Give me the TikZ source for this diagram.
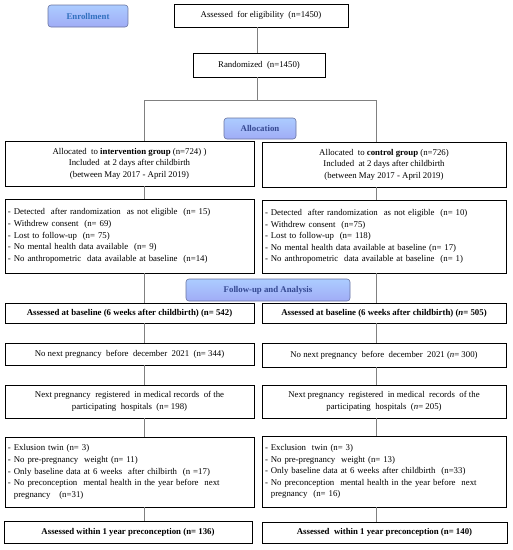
\documentclass[tikz,border=0pt]{standalone}
\usepackage{amsmath}
\usepackage{fontspec}
\setmainfont{Liberation Serif}
\usepackage{tikz}
\usepackage{color}

\definecolor{hdrtop}{RGB}{172,204,255}
\definecolor{hdrbot}{RGB}{160,172,246}
\definecolor{hdrline}{RGB}{105,115,160}
\definecolor{hdrtext}{RGB}{52,72,145}
\definecolor{enrtext}{RGB}{48,112,190}
\definecolor{linkgray}{RGB}{128,128,128}

\begin{document}
\begin{tikzpicture}[x=1pt,y=-1pt,
  box/.style={draw=black, line width=0.8pt, fill=white, inner sep=2pt,
    font=\fontsize{8.8}{11.6}\selectfont, align=center},
  listbox/.style={box, align=left, inner xsep=3pt},
  hdr/.style={draw=hdrline, line width=0.6pt, rounded corners=3pt,
    top color=hdrtop, bottom color=hdrbot, text=hdrtext,
    font=\fontsize{8.8}{10}\selectfont\bfseries, inner sep=1pt},
  link/.style={draw=linkgray, line width=0.8pt}]
\useasboundingbox (0,0) rectangle (513,550);

% enrollment
\node[hdr, text=enrtext, minimum width=80pt, minimum height=22pt] (enroll) at (88,16) {Enrollment};
\node[box, minimum width=174pt, minimum height=23pt] (elig) at (261,15.5) {Assessed\ \ for eligibility\ \ (n=1450)};
\node[box, minimum width=132pt, minimum height=24pt] (rand) at (259,65) {Randomized\ \ (n=1450)};

\coordinate (split) at (257,100);
\coordinate (lx) at (144,100);
\coordinate (rx) at (376,100);

% allocation
\node[box, minimum width=249pt, minimum height=45pt] (intv) at (129.5,163.5)
  {Allocated\ \ to \textbf{intervention group} (n=724) )\\ Included\ \ at 2 days after childbirth\\ (between May 2017 - April 2019)};
\node[box, minimum width=244pt, minimum height=45pt] (ctrl) at (384,164.5)
  {Allocated\ \ to \textbf{control group} (n=726)\\ Included\ \ at 2 days after childbirth\\ (between May 2017 - April 2019)};

\node[listbox, minimum width=249pt, minimum height=74pt, text width=243pt] (exL) at (129.5,236)
  {- Detected\ \ after randomization\ \ as not eligible\ \ (n= 15)\\
   - Withdrew consent\ \ (n= 69)\\
   - Lost to follow-up\ \ (n= 75)\\
   - No mental health data available\ \ (n= 9)\\
   - No anthropometric\ \ data available at baseline\ \ (n=14)};
\node[listbox, minimum width=244pt, minimum height=73pt, text width=238pt] (exR) at (384,236.5)
  {- Detected\ \ after randomization\ \ as not eligible\ \ (n= 10)\\
   - Withdrew consent\ \ (n=75)\\
   - Lost to follow-up\ \ (n= 118)\\
   - No mental health data available at baseline (n= 17)\\
   - No anthropometric\ \ data available at baseline\ \ (n= 1)};

% follow-up and analysis
\node[box, minimum width=249pt, minimum height=20pt] (baseL) at (129.5,313)
  {\textbf{Assessed at baseline (6 weeks after childbirth) (n= 542)}};
\node[box, minimum width=244pt, minimum height=20pt] (baseR) at (384,313)
  {\textbf{Assessed at baseline (6 weeks after childbirth) (\textit{n}= 505)}};

\node[box, minimum width=249pt, minimum height=22pt] (nonL) at (129.5,354)
  {No next pregnancy\ \ before\ \ december\ \ 2021\ \ (n= 344)};
\node[box, minimum width=244pt, minimum height=24pt] (nonR) at (384,355)
  {No next pregnancy\ \ before\ \ december\ \ 2021 (\textit{n}= 300)};

\node[box, minimum width=249pt, minimum height=33pt] (nextL) at (129.5,401.5)
  {Next pregnancy\ \ registered\ \ in medical records\ \ of the\\ participating\ \ hospitals\ \ (n= 198)};
\node[box, minimum width=244pt, minimum height=33pt] (nextR) at (384,401.5)
  {Next pregnancy\ \ registered\ \ in medical\ \ records\ \ of the\\ participating\ \ hospitals\ \ (\textit{n}= 205)};

\node[listbox, minimum width=249pt, minimum height=70pt, text width=243pt] (ex2L) at (129.5,472)
  {- Exlusion twin (n= 3)\\
   - No pre-pregnancy\ \ weight (n= 11)\\
   - Only baseline data at 6 weeks\ \ after chilbirth\ \ (n =17)\\
   - No preconception\ \ mental health in the year before\ \ next\\
   \ \ pregnancy\ \ \ (n=31)};
\node[listbox, minimum width=244pt, minimum height=71pt, text width=238pt] (ex2R) at (384,471.5)
  {- Exclusion\ \ twin (n= 3)\\
   - No pre-pregnancy\ \ weight (n= 13)\\
   - Only baseline data at 6 weeks after childbirth\ \ (n=33)\\
   - No preconception\ \ mental health in the year before\ \ next\\
   \ \ pregnancy\ \ (n= 16)};

\node[box, minimum width=248pt, minimum height=22pt] (finL) at (128,532)
  {\textbf{Assessed within 1 year preconception (n= 136)}};
\node[box, minimum width=245pt, minimum height=21pt] (finR) at (384.5,532.5)
  {\textbf{Assessed\ \ within 1 year preconception (n= 140)}};

% connectors
\draw[link] (elig.south -| split) -- (rand.north -| split);
\draw[link] (rand.south -| split) -- (split);
\draw[link] (lx) -- (rx);
\draw[link] (lx) -- (intv.north -| lx);
\draw[link] (rx) -- (ctrl.north -| rx);
\draw[link] (intv.south -| lx) -- (exL.north -| lx);
\draw[link] (ctrl.south -| rx) -- (exR.north -| rx);
\draw[link] (exL.south -| lx) -- (baseL.north -| lx);
\draw[link] (exR.south -| rx) -- (baseR.north -| rx);
\draw[link] (baseL.south -| lx) -- (nonL.north -| lx);
\draw[link] (baseR.south -| rx) -- (nonR.north -| rx);
\draw[link] (nonL.south -| lx) -- (nextL.north -| lx);
\draw[link] (nonR.south -| rx) -- (nextR.north -| rx);
\draw[link] (nextL.south -| lx) -- (ex2L.north -| lx);
\draw[link] (nextR.south -| rx) -- (ex2R.north -| rx);
\draw[link] (ex2L.south -| lx) -- (finL.north -| lx);
\draw[link] (ex2R.south -| rx) -- (finR.north -| rx);

% stage labels
\node[hdr, minimum width=72pt, minimum height=21pt] (alloc) at (260,128.5) {Allocation};
\node[hdr, minimum width=164pt, minimum height=22pt] (follow) at (268,290) {Follow-up and Analysis};

\end{tikzpicture}
\end{document}
